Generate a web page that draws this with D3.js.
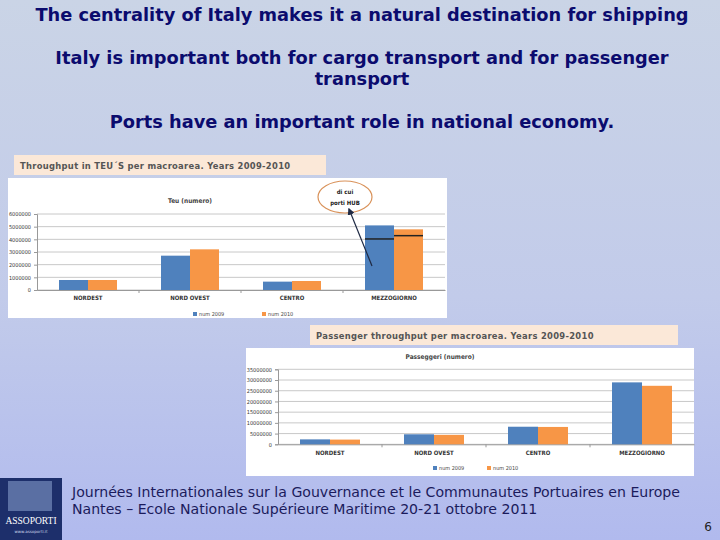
<!DOCTYPE html>
<html>
<head>
<meta charset="utf-8">
<script src="https://cdn.jsdelivr.net/npm/d3@7"></script>
<style>
  body { margin: 0; padding: 0; }
  svg { display: block; }
</style>
</head>
<body>
<svg id="slide" width="720" height="540"></svg>
<script>
// data
var areas = ["NORDEST", "NORD OVEST", "CENTRO", "MEZZOGIORNO"];
var years = ["num 2009", "num 2010"];
var teu2009 = [790000, 2710000, 660000, 5100000];
var teu2010 = [790000, 3210000, 710000, 4790000];
var hub2009 = [null, null, null, 4030000];
var hub2010 = [null, null, null, 4290000];
var teuTicks = [0, 1000000, 2000000, 3000000, 4000000, 5000000, 6000000];
var pax2009 = [2300000, 4670000, 8200000, 28900000];
var pax2010 = [2200000, 4400000, 8100000, 27300000];
var paxTicks = [0, 5000000, 10000000, 15000000, 20000000, 25000000, 30000000, 35000000];

var blue = "#4f81bd", orange = "#f79646";
var navy = "#0b0b6e";

var svg = d3.select("#slide");

// background
var defs = svg.append("defs");
var bg = defs.append("linearGradient").attr("id", "bg")
    .attr("x1", 0).attr("y1", 0).attr("x2", 0).attr("y2", 1);
bg.append("stop").attr("offset", "0%").attr("stop-color", "#cad4e6");
bg.append("stop").attr("offset", "55%").attr("stop-color", "#c2cbea");
bg.append("stop").attr("offset", "100%").attr("stop-color", "#b1baee");
svg.append("rect").attr("width", 720).attr("height", 540).attr("fill", "url(#bg)");

// heading lines
var heads = [
    {t: "The centrality of Italy makes it a natural destination for shipping", y: 21},
    {t: "Italy is important both for cargo transport and for passenger", y: 64},
    {t: "transport", y: 85},
    {t: "Ports have an important role in national economy.", y: 128}
];
svg.selectAll("text.head").data(heads).enter().append("text")
    .attr("class", "head")
    .attr("x", 362).attr("y", d => d.y)
    .attr("text-anchor", "middle")
    .style("font-family", "'DejaVu Sans', sans-serif")
    .style("font-weight", "bold")
    .style("font-size", "17.8px")
    .style("fill", navy)
    .text(d => d.t);

function drawChart(o) {
    // caption box
    svg.append("rect").attr("x", o.cap[0]).attr("y", o.cap[1])
        .attr("width", o.cap[2]).attr("height", o.cap[3]).attr("fill", "#fbe8d8");
    svg.append("text").attr("x", o.cap[0] + 6).attr("y", o.cap[1] + 14)
        .style("font-family", "'DejaVu Sans', sans-serif").style("font-size", "8.4px")
        .style("font-weight", "bold").style("letter-spacing", "0.3px")
        .style("fill", "#555").text(o.caption);

    // white chart panel
    svg.append("rect").attr("x", o.panel[0]).attr("y", o.panel[1])
        .attr("width", o.panel[2]).attr("height", o.panel[3]).attr("fill", "#fff");

    var x = d3.scaleBand().domain(areas).range([o.left, o.right]);
    var xi = d3.scaleBand().domain(years).range([0, o.barW * 2]);
    var y = d3.scaleLinear().domain([0, o.max]).range([o.bottom, o.top]);

    var g = svg.append("g");
    g.selectAll("line.grid").data(o.ticks).enter().append("line")
        .attr("x1", o.left).attr("x2", o.right)
        .attr("y1", d => y(d)).attr("y2", d => y(d))
        .attr("stroke", "#c8c8c8").attr("stroke-width", 1);

    var ya = g.append("g").attr("transform", "translate(" + o.left + ",0)")
        .call(d3.axisLeft(y).tickValues(o.ticks).tickSize(3).tickFormat(d3.format("d")));
    ya.select(".domain").attr("stroke", "#999");
    ya.selectAll(".tick line").attr("stroke", "#999");
    ya.selectAll("text").style("font-family", "'DejaVu Sans Condensed', sans-serif")
        .style("font-size", "5.5px").style("fill", "#333");

    var xa = g.append("g").attr("transform", "translate(0," + o.bottom + ")")
        .call(d3.axisBottom(x).tickSize(0).tickPadding(6));
    xa.select(".domain").attr("stroke", "#999");
    xa.selectAll("text").style("font-family", "'DejaVu Sans Condensed', sans-serif")
        .style("font-size", "6px").style("font-weight", "bold").style("fill", "#333");
    g.selectAll("line.sep").data(areas.slice(1)).enter().append("line")
        .attr("x1", d => x(d)).attr("x2", d => x(d))
        .attr("y1", o.bottom).attr("y2", o.bottom + 3).attr("stroke", "#999");

    var series = [o.s2009, o.s2010];
    var cols = [blue, orange];
    years.forEach(function (yr, k) {
        g.selectAll("rect.b" + k).data(areas).enter().append("rect")
            .attr("x", d => x(d) + x.bandwidth() / 2 - o.barW + xi(yr))
            .attr("width", xi.bandwidth())
            .attr("y", (d, i) => y(series[k][i]))
            .attr("height", (d, i) => o.bottom - y(series[k][i]))
            .attr("fill", cols[k]);
    });

    // chart title
    svg.append("text").attr("x", o.title[0]).attr("y", o.title[1]).attr("text-anchor", "middle")
        .style("font-family", "'DejaVu Sans Condensed', sans-serif").style("font-size", "6.5px")
        .style("font-weight", "bold").style("fill", "#444").text(o.titleText);

    // legend
    years.forEach(function (yr, k) {
        svg.append("rect").attr("x", o.legend[k]).attr("y", o.legendY - 4)
            .attr("width", 4).attr("height", 4).attr("fill", cols[k]);
        svg.append("text").attr("x", o.legend[k] + 6).attr("y", o.legendY)
            .style("font-family", "'DejaVu Sans Condensed', sans-serif").style("font-size", "5.5px")
            .style("fill", "#444").text(yr);
    });
    return {x: x, xi: xi, y: y, g: g, barW: o.barW};
}

var teu = drawChart({
    cap: [14, 155, 312, 20], caption: "Throughput in TEU´S per macroarea. Years 2009-2010",
    panel: [8, 178, 439, 140],
    left: 37, right: 445, top: 214, bottom: 290, max: 6000000, ticks: teuTicks, barW: 29,
    s2009: teu2009, s2010: teu2010,
    title: [190, 203], titleText: "Teu (numero)",
    legend: [193, 262], legendY: 316
});

var pax = drawChart({
    cap: [310, 325, 368, 20], caption: "Passenger throughput per macroarea. Years 2009-2010",
    panel: [246, 348, 448, 128],
    left: 278, right: 694, top: 369.3, bottom: 444.3, max: 35000000, ticks: paxTicks, barW: 30,
    s2009: pax2009, s2010: pax2010,
    title: [440, 359], titleText: "Passeggeri (numero)",
    legend: [433, 487], legendY: 470
});

// hub-port lines inside the Mezzogiorno TEU bars
[hub2009, hub2010].forEach(function (h, k) {
    teu.g.selectAll("line.hub" + k).data(areas.filter((d, i) => h[i] != null)).enter().append("line")
        .attr("x1", d => teu.x(d) + teu.x.bandwidth() / 2 - teu.barW + teu.xi(years[k]))
        .attr("x2", d => teu.x(d) + teu.x.bandwidth() / 2 - teu.barW + teu.xi(years[k]) + teu.xi.bandwidth())
        .attr("y1", d => teu.y(h[areas.indexOf(d)])).attr("y2", d => teu.y(h[areas.indexOf(d)]))
        .attr("stroke", "#222").attr("stroke-width", 1.5);
});

// callout
defs.append("marker").attr("id", "ah").attr("viewBox", "0 0 10 10").attr("refX", 8).attr("refY", 5)
    .attr("markerWidth", 6).attr("markerHeight", 6).attr("orient", "auto")
    .append("path").attr("d", "M0,0 L10,5 L0,10 z").attr("fill", "#1f2a44");
svg.append("ellipse").attr("cx", 345).attr("cy", 197).attr("rx", 27).attr("ry", 16)
    .attr("fill", "#fff").attr("stroke", "#d9925a").attr("stroke-width", 1.2);
svg.append("text").attr("x", 345).attr("y", 194).attr("text-anchor", "middle")
    .style("font-family", "'DejaVu Sans Condensed', sans-serif").style("font-size", "6px")
    .style("font-weight", "bold").style("fill", "#222").text("di cui");
svg.append("text").attr("x", 345).attr("y", 205).attr("text-anchor", "middle")
    .style("font-family", "'DejaVu Sans Condensed', sans-serif").style("font-size", "6px")
    .style("font-weight", "bold").style("fill", "#222").text("porti HUB");
svg.append("line").attr("x1", 372).attr("y1", 266).attr("x2", 349).attr("y2", 209)
    .attr("stroke", "#1f2a44").attr("stroke-width", 1.2).attr("marker-end", "url(#ah)");

// logo
svg.append("rect").attr("x", 0).attr("y", 478).attr("width", 62).attr("height", 62).attr("fill", "#1d2f6b");
svg.append("rect").attr("x", 8).attr("y", 481).attr("width", 44).attr("height", 30).attr("fill", "#5a6fa3");
svg.append("text").attr("x", 31).attr("y", 524).attr("text-anchor", "middle")
    .style("font-family", "'Liberation Serif', serif").style("font-size", "9.5px")
    .style("fill", "#fff").text("ASSOPORTI");
svg.append("text").attr("x", 31).attr("y", 533).attr("text-anchor", "middle")
    .style("font-family", "'DejaVu Sans', sans-serif").style("font-size", "4px")
    .style("fill", "#cfd6ea").text("www.assoporti.it");

// footer
var foot = ["Journées Internationales sur la Gouvernance et le Communautes Portuaires en Europe",
            "Nantes – Ecole Nationale Supérieure Maritime 20-21 ottobre 2011"];
svg.selectAll("text.foot").data(foot).enter().append("text")
    .attr("x", 72).attr("y", (d, i) => 497 + i * 17)
    .style("font-family", "'DejaVu Sans', sans-serif").style("font-size", "14.1px")
    .style("fill", "#1b1b5c").text(d => d);
svg.append("text").attr("x", 708).attr("y", 531).attr("text-anchor", "middle")
    .style("font-family", "'DejaVu Sans', sans-serif").style("font-size", "12px")
    .style("fill", "#222").text("6");
</script>
</body>
</html>
